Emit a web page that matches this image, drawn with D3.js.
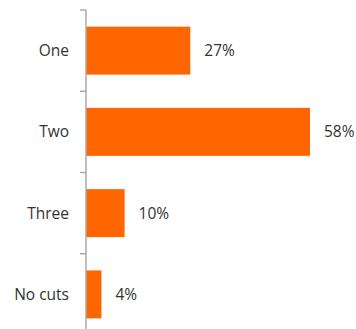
<!DOCTYPE html>
<html>
<head>
<meta charset="utf-8">
<script src="https://cdn.jsdelivr.net/npm/d3@7"></script>
<style>
  html, body { margin: 0; padding: 0; background: #fff; }
  svg { display: block; }
  text { font-family: "Open Sans", "Noto Sans", sans-serif; }
</style>
</head>
<body>
<svg id="chart" width="356" height="329"></svg>
<script>
// Categories and their shares (percent)
const categories = ["One", "Two", "Three", "No cuts"];
const values = [27, 58, 10, 4];
const valueLabels = ["27%", "58%", "10%", "4%"];

const width = 356, height = 329;
const axisX = 86;
const fontSize = 15.5;

const svg = d3.select("#chart");

const y = d3.scaleBand()
  .domain(categories)
  .range([10, 335])
  .paddingInner(0.41)
  .paddingOuter(0.205);

const x = d3.scaleLinear()
  .domain([0, 58])
  .range([axisX, 310]);

const data = categories.map((c, i) => ({ cat: c, value: values[i], label: valueLabels[i] }));

// Bars
svg.append("g")
  .selectAll("rect")
  .data(data)
  .join("rect")
  .attr("x", x(0))
  .attr("y", d => y(d.cat))
  .attr("width", d => x(d.value) - x(0))
  .attr("height", y.bandwidth())
  .attr("fill", "#ff6600");

// Value labels
svg.append("g")
  .selectAll("text")
  .data(data)
  .join("text")
  .attr("x", d => x(d.value) + 14)
  .attr("y", d => y(d.cat) + y.bandwidth() / 2)
  .attr("dy", "0.35em")
  .attr("font-size", fontSize)
  .attr("fill", "#333")
  .text(d => d.label);

// Category axis: vertical line with ticks between bands
const axis = svg.append("g");
const step = y.step();
const boundaries = categories.map(c => y(c) - y.paddingInner() * step / 2);

axis.append("line")
  .attr("x1", axisX).attr("x2", axisX)
  .attr("y1", y.range()[0]).attr("y2", y.range()[1])
  .attr("stroke", "#aaa")
  .attr("stroke-width", 1.5);

axis.selectAll("line.tick")
  .data(boundaries)
  .join("line")
  .attr("class", "tick")
  .attr("x1", axisX - 6).attr("x2", axisX)
  .attr("y1", d => d).attr("y2", d => d)
  .attr("stroke", "#aaa")
  .attr("stroke-width", 1.5);

axis.selectAll("text")
  .data(categories)
  .join("text")
  .attr("x", 69)
  .attr("y", d => y(d) + y.bandwidth() / 2)
  .attr("dy", "0.35em")
  .attr("text-anchor", "end")
  .attr("font-size", fontSize)
  .attr("fill", "#333")
  .text(d => d);
</script>
</body>
</html>
